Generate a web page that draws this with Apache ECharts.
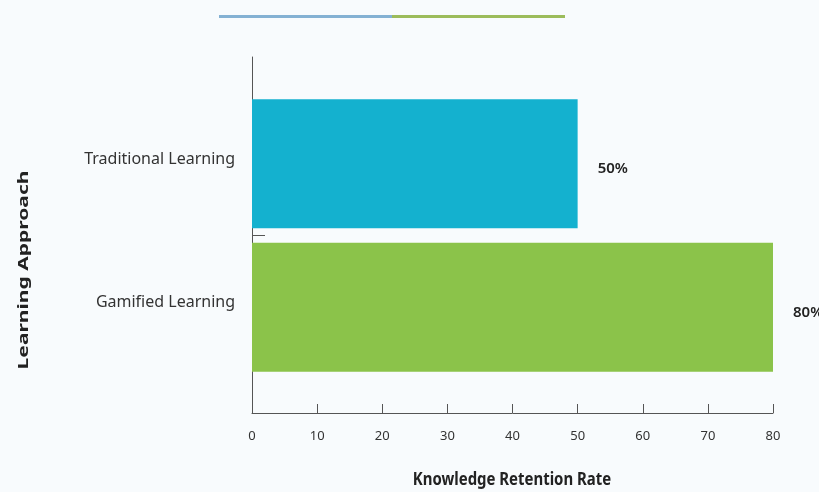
<!DOCTYPE html>
<html>
<head>
<meta charset="utf-8">
<script src="https://cdn.jsdelivr.net/npm/echarts@6/dist/echarts.min.js"></script>
<style>
  html, body { margin: 0; padding: 0; background: #f8fbfd; }
  #chart { width: 819px; height: 492px; }
</style>
</head>
<body>
<div id="chart"></div>
<script>
// Knowledge retention by learning approach
const categories = ['Traditional Learning', 'Gamified Learning'];
const retention = [50, 80];
const xTicks = { min: 0, max: 80, step: 10 };
const barColors = ['#14b1cf', '#8bc34a'];
const legendColors = ['#84b1d3', '#9cbc5b'];

const font = 'Noto Sans, Lato, sans-serif';

// one stacked series per approach so each has its own legend entry
const series = categories.map((name, i) => ({
  name: name,
  type: 'bar',
  stack: 'all',
  xAxisIndex: 1,
  yAxisIndex: 1,
  barCategoryGap: '10%',
  data: retention.map((v, j) => (j === i ? v : '-')),
  itemStyle: { color: barColors[i] },
  label: {
    show: true,
    position: 'right',
    distance: 20,
    offset: [0, 5],
    formatter: '{c}%',
    color: '#222',
    fontFamily: font,
    fontSize: 15,
    fontWeight: 600
  }
}));

const chart = echarts.init(document.getElementById('chart'));
chart.setOption({
  backgroundColor: '#f8fbfd',
  animation: false,
  legend: {
    left: 219,
    top: 15,
    padding: 0,
    itemGap: 0,
    itemWidth: 173,
    itemHeight: 3,
    icon: 'rect',
    formatter: () => '',
    data: categories.map((name, i) => ({ name: name, itemStyle: { color: legendColors[i] } }))
  },
  grid: [
    { left: 252, right: 46, top: 57, bottom: 79 },
    { left: 252, right: 46, top: 92, bottom: 113 }
  ],
  xAxis: [
    {
      gridIndex: 0,
      type: 'value',
      min: xTicks.min,
      max: xTicks.max,
      interval: xTicks.step,
      splitLine: { show: false },
      axisLine: { show: true, lineStyle: { color: '#555', width: 1 } },
      axisTick: { show: true, inside: true, length: 9, lineStyle: { color: '#555' } },
      axisLabel: { margin: 17, color: '#333', fontFamily: font, fontSize: 13 }
    },
    {
      gridIndex: 1,
      type: 'value',
      min: xTicks.min,
      max: xTicks.max,
      show: false
    }
  ],
  yAxis: [
    {
      // frame axis: full-height line with a tick between the two bars
      gridIndex: 0,
      type: 'value',
      min: 0,
      max: 1,
      axisLine: { show: true, lineStyle: { color: '#555', width: 1 } },
      axisTick: { show: true, inside: true, length: 13, customValues: [0.5], lineStyle: { color: '#555' } },
      axisLabel: { show: false },
      splitLine: { show: false }
    },
    {
      gridIndex: 1,
      type: 'category',
      inverse: true,
      data: categories,
      axisLine: { show: false },
      axisTick: { show: false },
      axisLabel: {
        margin: 17,
        color: '#333',
        fontFamily: font,
        fontSize: 16,
        lineHeight: 9,
        // a blank second line lifts the name a little above the bar centre
        formatter: (v) => v + '\n '
      },
      splitLine: { show: false }
    }
  ],
  graphic: [
    {
      type: 'text',
      x: 24,
      y: 270,
      rotation: Math.PI / 2,
      scaleX: 1.4,
      style: {
        text: 'Learning Approach',
        fill: '#222',
        font: 'bold 15px ' + font,
        align: 'center',
        verticalAlign: 'middle'
      }
    },
    {
      type: 'text',
      x: 512,
      y: 480,
      scaleX: 0.83,
      style: {
        text: 'Knowledge Retention Rate',
        fill: '#222',
        font: 'bold 18px ' + font,
        align: 'center',
        verticalAlign: 'middle'
      }
    }
  ],
  series: series
});
</script>
</body>
</html>
